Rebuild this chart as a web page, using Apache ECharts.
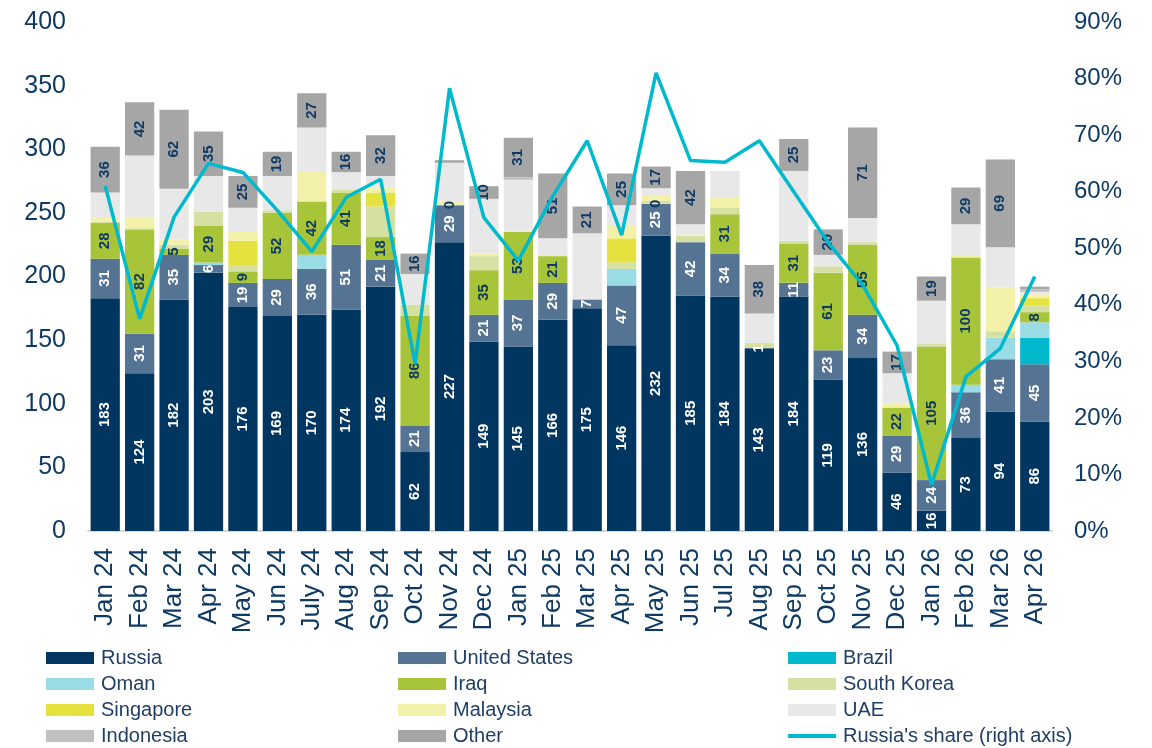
<!DOCTYPE html>
<html>
<head>
<meta charset="utf-8">
<script src="https://cdn.jsdelivr.net/npm/echarts@6/dist/echarts.min.js"></script>
<style>
  html, body { margin: 0; padding: 0; background: #fff; }
  #chart { width: 1152px; height: 748px; }
</style>
</head>
<body>
<div id="chart"></div>
<script>
const months = ['Jan 24', 'Feb 24', 'Mar 24', 'Apr 24', 'May 24', 'Jun 24', 'July 24', 'Aug 24', 'Sep 24', 'Oct 24', 'Nov 24', 'Dec 24',
  'Jan 25', 'Feb 25', 'Mar 25', 'Apr 25', 'May 25', 'Jun 25', 'Jul 25', 'Aug 25', 'Sep 25', 'Oct 25', 'Nov 25', 'Dec 25',
  'Jan 26', 'Feb 26', 'Mar 26', 'Apr 26']

// volumes per origin, stacked bottom to top
const russia     = [183, 124, 182, 203, 176, 169, 170, 174, 192, 62, 227, 149, 145, 166, 175, 146, 232, 185, 184, 143, 184, 119, 136, 46, 16, 73, 94, 86]
const us         = [31, 31, 35, 6, 19, 29, 36, 51, 21, 21, 29, 21, 37, 29, 7, 47, 25, 42, 34, 1, 11, 23, 34, 29, 24, 36, 41, 45]
const brazil     = [0, 0, 0, 0, 0, 0, 0, 0, 0, 0, 0, 0, 0, 0, 0, 0, 0, 0, 0, 0, 0, 0, 0, 0, 0, 0, 0, 21]
const oman       = [0, 0, 0, 2, 0, 0, 11, 0, 0, 0, 0.4, 0, 0, 0, 0, 13, 0.4, 0, 0, 0, 0, 0, 0, 0, 0, 6, 17, 12]
const iraq       = [28, 82, 5, 29, 9, 52, 42, 41, 18, 86, 0, 35, 53, 21, 0, 0, 0, 0, 31, 0, 31, 61, 55, 22, 105, 100, 0, 8]
const southKorea = [1, 1, 3, 11, 5, 2, 0, 2, 24, 9, 0, 11, 0, 0, 0, 5, 2, 5, 5, 4, 2, 5, 2, 0, 2, 0, 5, 5]
const singapore  = [0, 0, 0, 0, 19, 0, 0, 0, 11, 0, 0, 0, 0, 0, 0, 19, 0, 0, 0, 0, 0, 0, 0, 0, 0, 0, 0, 6]
const malaysia   = [3, 9, 4, 0, 7, 0, 24, 0, 4, 0, 3, 2, 1, 1, 0, 10, 4, 1, 8, 0, 0, 0, 0, 3, 0, 2, 35, 3]
const uae        = [20, 48, 40, 28, 19, 27, 34, 14, 9, 24, 30, 43, 40, 13, 52, 16, 6, 8, 21, 23, 55, 9, 19, 24, 34, 24, 31, 2]
const indonesia  = [0, 0, 0, 0, 0, 0, 0, 0, 0, 0, 0, 0, 2, 0, 0, 0, 0, 0, 0, 0, 0, 0, 0, 0, 0, 0, 0, 2]
const other      = [36, 42, 62, 35, 25, 19, 27, 16, 32, 16, 2, 10, 31, 51, 21, 25, 17, 42, 0, 38, 25, 20, 71, 17, 19, 29, 69, 2]

// Russia's share, % (right axis)
const russiaShare = [61, 37.5, 55.5, 65, 63.4, 56.7, 49.4, 59, 62.2, 29.5, 78.3, 55.4, 47.8, 59.2, 69, 52.3, 81, 65.5, 65.2, 69, 60, 51, 43.5, 32.8, 8.2, 27.3, 32.3, 45]

const shareName = "Russia's share (right axis)"
// legend reads across rows of three
const legendOrder = ['Russia', 'United States', 'Brazil', 'Oman', 'Iraq', 'South Korea',
  'Singapore', 'Malaysia', 'UAE', 'Indonesia', 'Other', shareName]

const navy = '#0e3a64'
const font = "'Liberation Sans', Arial, sans-serif"

// name, data, colour, label colour, when to show a label
const stacks = [
  ['Russia', russia, '#00365f', '#fff', v => v > 0],
  ['United States', us, '#557493', '#fff', v => v > 0],
  ['Brazil', brazil, '#00b9cc', navy, () => false],
  ['Oman', oman, '#9adce5', navy, v => v > 0 && v < 1],
  ['Iraq', iraq, '#a8c438', navy, v => v > 0],
  ['South Korea', southKorea, '#d5e0a2', navy, () => false],
  ['Singapore', singapore, '#e5e23f', navy, () => false],
  ['Malaysia', malaysia, '#f3f1a9', navy, () => false],
  ['UAE', uae, '#e8e8e8', navy, () => false],
  ['Indonesia', indonesia, '#c0c0c0', navy, () => false],
  ['Other', other, '#a6a6a6', navy, v => v >= 5],
]

const series = stacks.map(([name, data, color, labelColor, show]) => ({
  name,
  type: 'bar',
  stack: 'total',
  barCategoryGap: '15%',
  itemStyle: { color },
  label: {
    show: true,
    position: 'inside',
    rotate: 90,
    color: labelColor,
    fontFamily: font,
    fontWeight: 'bold',
    fontSize: 15,
    formatter: p => show(p.value) ? String(Math.round(p.value)) : '',
  },
  data,
}))

series.push({
  name: shareName,
  type: 'line',
  yAxisIndex: 1,
  symbol: 'none',
  z: 10,
  lineStyle: { color: '#00b9cc', width: 3.5 },
  itemStyle: { color: '#00b9cc' },
  data: russiaShare,
})

const colLeft = [41, 393, 783]
const rowMid = [658, 684, 710, 736]
const legends = legendOrder.map((name, i) => ({
  left: colLeft[i % 3],
  top: rowMid[Math.floor(i / 3)] - 15,
  itemWidth: 48,
  itemHeight: name === shareName ? 4 : 12,
  icon: 'rect',
  selectedMode: false,
  textStyle: { color: '#1f3f66', fontSize: 20, fontFamily: font, lineHeight: 20, padding: [0, 0, 0, 2] },
  data: [name],
}))

const chart = echarts.init(document.getElementById('chart'))
chart.setOption({
  animation: false,
  textStyle: { fontFamily: font },
  grid: { left: 88, right: 100, top: 22, bottom: 217 },
  legend: legends,
  xAxis: {
    type: 'category',
    data: months,
    axisLine: { lineStyle: { color: '#d9d9d9', width: 2 } },
    axisTick: { show: false },
    axisLabel: { rotate: 90, color: navy, fontSize: 26, fontFamily: font, margin: 17, interval: 0 },
  },
  yAxis: [
    {
      type: 'value', min: 0, max: 400, interval: 50,
      splitLine: { show: false },
      axisLabel: { color: navy, fontSize: 25, fontFamily: font, margin: 22 },
    },
    {
      type: 'value', min: 0, max: 90, interval: 10,
      splitLine: { show: false },
      axisLabel: { color: navy, fontSize: 24, fontFamily: font, margin: 22, formatter: '{value}%' },
    },
  ],
  series,
})
</script>
</body>
</html>
